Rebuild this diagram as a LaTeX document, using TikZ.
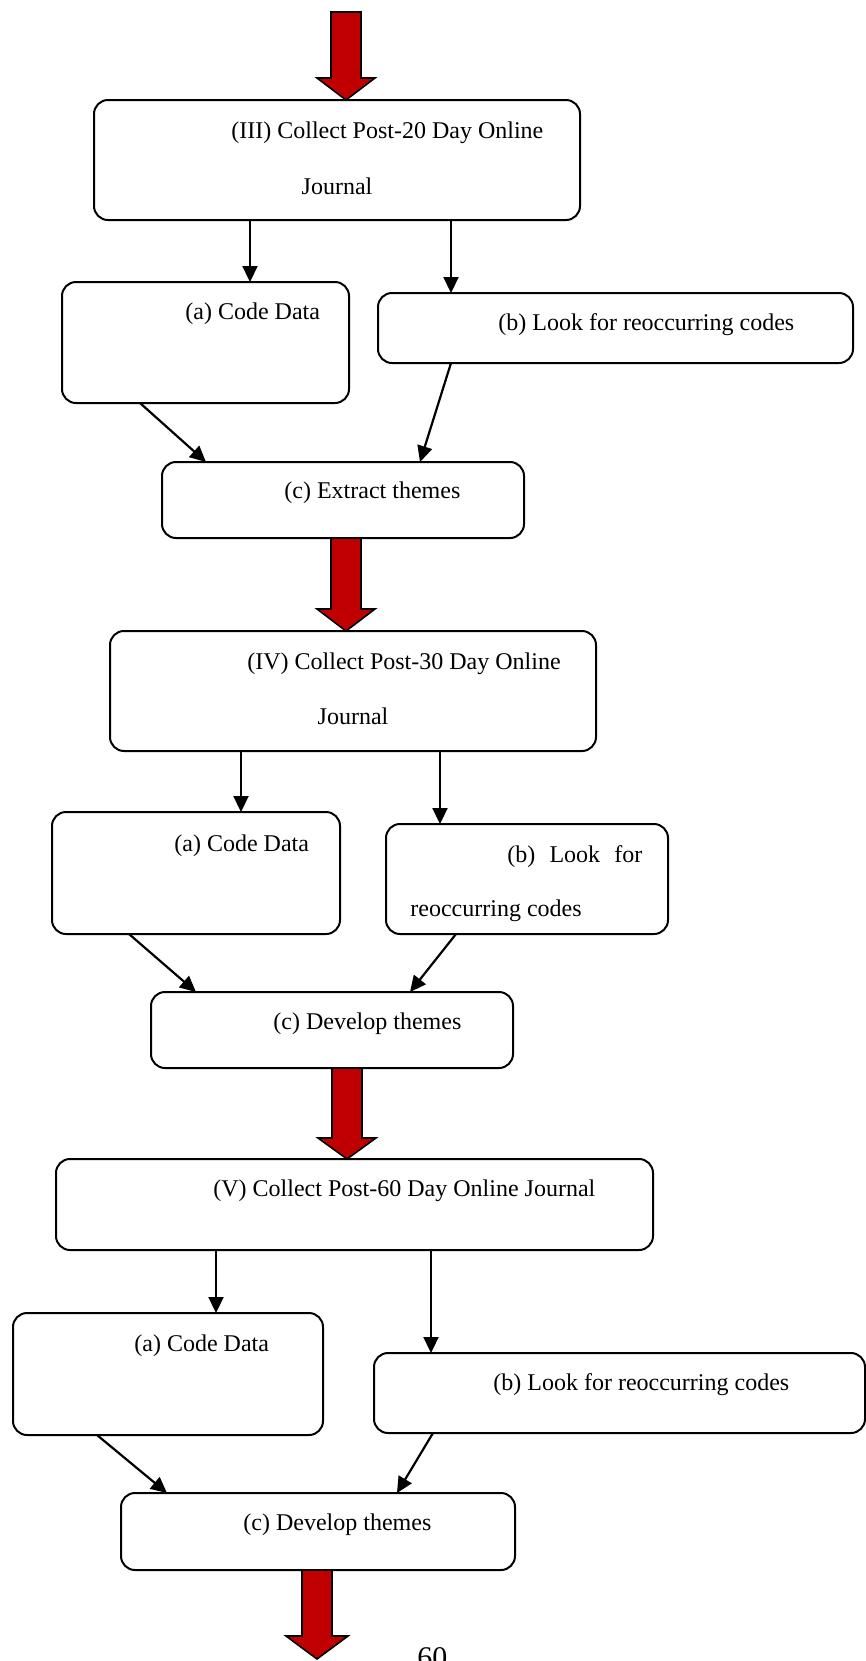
\documentclass[tikz,border=0pt]{standalone}
\usepackage{fontspec}
\setmainfont{Liberation Serif}
\usetikzlibrary{arrows.meta}
\definecolor{arrred}{RGB}{192,0,0}
\newcommand\bx[5]{\node[box, minimum width={(#4-#2)*0.5pt}, minimum height={(#5-#3)*0.5pt}] (#1) at ({(#2+#4)/2},{(#3+#5)/2}) {};}
\newcommand\redarr[5]{\filldraw[redarrow] (#1-15,#2) -- (#1+15,#2) -- (#1+15,#3) -- (#1+#5,#3) -- (#1,#4) -- (#1-#5,#3) -- (#1-15,#3) -- cycle;}
\begin{document}
\begin{tikzpicture}[x=0.5pt,y=-0.5pt,
 box/.style={draw, line width=1pt, rounded corners=7pt, inner sep=0pt, outer sep=0pt},
 lbl/.style={anchor=west, inner sep=0pt, font=\fontsize{12}{14}\selectfont},
 conn/.style={line width=1.1pt, -{Triangle[length=8pt,width=7.5pt]}},
 redarrow/.style={fill=arrred, draw=black, line width=0.8pt, line join=miter}]
\useasboundingbox (0,0) rectangle (866,1661);

\bx{b3}{94}{100}{580}{220}
\bx{a3}{62}{282}{349}{403}
\bx{r3}{378}{293}{853}{363}
\bx{c3}{162}{462}{524}{538}
\bx{b4}{110}{631}{596}{751}
\bx{a4}{52}{812}{340}{934}
\bx{r4}{386}{824}{668}{934}
\bx{c4}{151}{992}{513}{1068}
\bx{b5}{56}{1159}{653}{1250}
\bx{a5}{13}{1313}{323}{1435}
\bx{r5}{374}{1353}{865}{1433}
\bx{c5}{121}{1493}{515}{1570}

\draw[conn] (b3.south -| 250,0) -- (a3.north -| 250,0);
\draw[conn] (b3.south -| 451,0) -- (r3.north -| 451,0);
\draw[conn] (a3.south -| 140,0) -- (c3.north -| 206,0);
\draw[conn] (r3.south -| 451,0) -- (c3.north -| 420,0);
\draw[conn] (b4.south -| 241,0) -- (a4.north -| 241,0);
\draw[conn] (b4.south -| 440,0) -- (r4.north -| 440,0);
\draw[conn] (a4.south -| 129,0) -- (c4.north -| 196,0);
\draw[conn] (r4.south -| 456,0) -- (c4.north -| 410,0);
\draw[conn] (b5.south -| 216,0) -- (a5.north -| 216,0);
\draw[conn] (b5.south -| 431,0) -- (r5.north -| 431,0);
\draw[conn] (a5.south -| 97,0) -- (c5.north -| 167,0);
\draw[conn] (r5.south -| 433,0) -- (c5.north -| 397,0);

\redarr{346}{12}{78}{100}{29}
\redarr{346}{538}{609}{631}{29}
\redarr{347}{1068}{1138}{1159}{29}
\redarr{317}{1570}{1636}{1659}{31}

\node[lbl] (t3a) at (231,133) {(III) Collect Post-20 Day Online};
\node[lbl,anchor=center] (t3b) at (337,186) {Journal};
\node[lbl] (t3c) at (185,314) {(a) Code Data};
\node[lbl] (t3d) at (498,325) {(b) Look for reoccurring codes};
\node[lbl] (t3e) at (284,493) {(c) Extract themes};
\node[lbl] (t4a) at (247,664) {(IV) Collect Post-30 Day Online};
\node[lbl,anchor=center] (t4b) at (353,716) {Journal};
\node[lbl] (t4c) at (174,846) {(a) Code Data};
\node[lbl] (t4d) at (507,857) {\makebox[67.5pt][s]{(b) Look for}};
\node[lbl] (t4e) at (410,911) {reoccurring codes};
\node[lbl] (t4f) at (273,1024) {(c) Develop themes};
\node[lbl] (t5a) at (213,1191) {(V) Collect Post-60 Day Online Journal};
\node[lbl] (t5c) at (134,1346) {(a) Code Data};
\node[lbl] (t5d) at (493,1385) {(b) Look for reoccurring codes};
\node[lbl] (t5e) at (243,1525) {(c) Develop themes};
\node[anchor=north west, inner sep=0pt, font=\fontsize{15}{17}\selectfont] (pg) at (417,1647) {60};
\end{tikzpicture}
\end{document}
